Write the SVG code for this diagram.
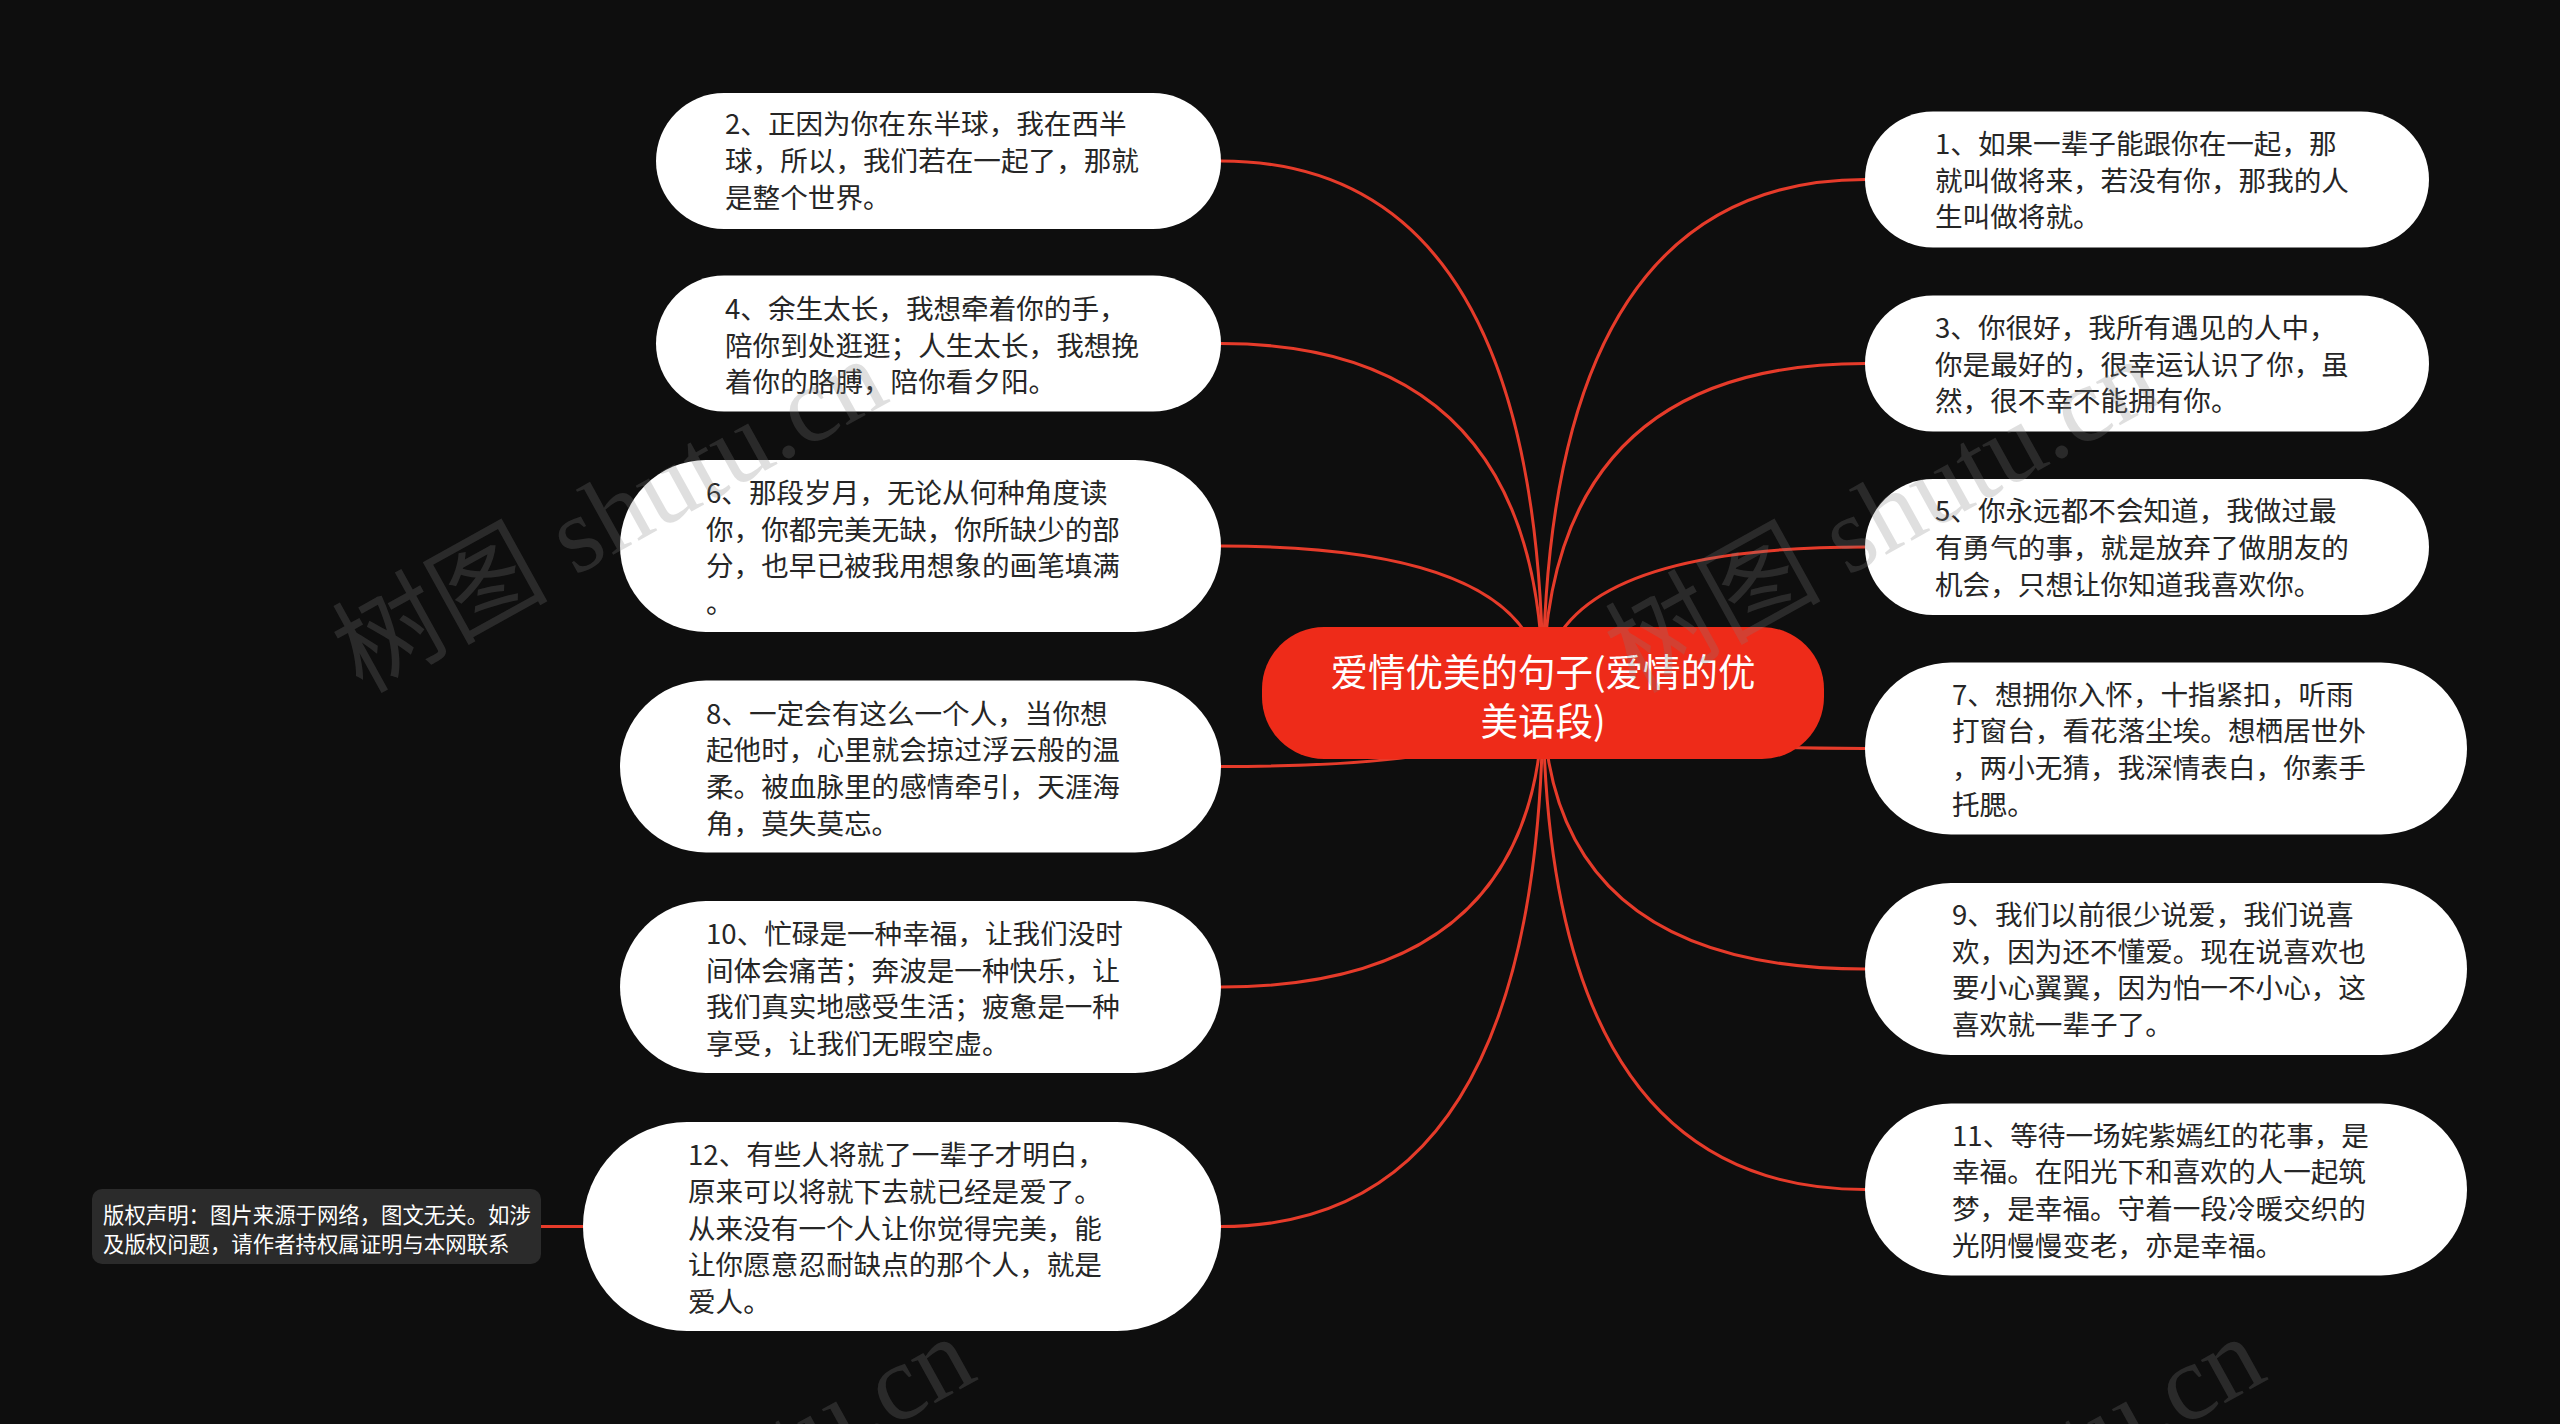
<svg xmlns="http://www.w3.org/2000/svg" width="2560" height="1424" viewBox="0 0 2560 1424">
<style>
.node rect{fill:#ffffff}
.node text{font-family:"Noto Sans CJK SC","Noto Sans",sans-serif;font-size:27.6px;fill:#262626;dominant-baseline:central}
.conn path{fill:none;stroke:#e63b2a;stroke-width:3}
#center rect{fill:#ee2b19}
#center text{font-family:"Noto Sans CJK SC","Noto Sans",sans-serif;font-size:37.5px;fill:#ffffff;text-anchor:middle;dominant-baseline:central}
#note rect{fill:#2b2b2b}
#note text{font-family:"Noto Sans CJK SC","Noto Sans",sans-serif;font-size:21.4px;fill:#ffffff;dominant-baseline:central}
.wm{font-family:"Liberation Serif","Noto Sans CJK SC",serif;font-size:108px;fill:#808080;fill-opacity:0.25}
</style>
<rect x="0" y="0" width="2560" height="1424" fill="#0e0e0e"/>
<g id="connectors" class="conn">
<path d="M1543,693 Q1543,161 1221,161"/>
<path d="M1543,693 Q1543,343.5 1221,343.5"/>
<path d="M1543,693 Q1543,546 1221,546"/>
<path d="M1543,693 Q1543,766.5 1221,766.5"/>
<path d="M1543,693 Q1543,987 1221,987"/>
<path d="M1543,693 Q1543,1226.5 1221,1226.5"/>
<path d="M1543,693 Q1543,179.5 1865,179.5"/>
<path d="M1543,693 Q1543,363.5 1865,363.5"/>
<path d="M1543,693 Q1543,547 1865,547"/>
<path d="M1543,693 Q1543,748.5 1865,748.5"/>
<path d="M1543,693 Q1543,969 1865,969"/>
<path d="M1543,693 Q1543,1189.5 1865,1189.5"/>
<path d="M541,1226.5 L583,1226.5"/>
</g>
<g id="center">
<rect x="1262" y="627" width="562" height="132" rx="62"/>
<text x="1543"><tspan x="1543" y="669">爱情优美的句子(爱情的优</tspan><tspan x="1543" y="718">美语段)</tspan></text>
</g>
<g id="n2" class="node">
<rect x="656" y="93" width="565" height="136" rx="68"/>
<text x="725"><tspan x="725" y="122.3">2、正因为你在东半球，我在西半</tspan><tspan x="725" y="159">球，所以，我们若在一起了，那就</tspan><tspan x="725" y="195.7">是整个世界。</tspan></text>
</g>
<g id="n4" class="node">
<rect x="656" y="275.5" width="565" height="136" rx="68"/>
<text x="725"><tspan x="725" y="306.8">4、余生太长，我想牵着你的手，</tspan><tspan x="725" y="343.5">陪你到处逛逛；人生太长，我想挽</tspan><tspan x="725" y="380.2">着你的胳膊，陪你看夕阳。</tspan></text>
</g>
<g id="n6" class="node">
<rect x="620" y="460" width="601" height="172" rx="86"/>
<text x="706"><tspan x="706" y="491">6、那段岁月，无论从何种角度读</tspan><tspan x="706" y="527.7">你，你都完美无缺，你所缺少的部</tspan><tspan x="706" y="564.4">分，也早已被我用想象的画笔填满</tspan><tspan x="706" y="601">。</tspan></text>
</g>
<g id="n8" class="node">
<rect x="620" y="680.5" width="601" height="172" rx="86"/>
<text x="706"><tspan x="706" y="711.5">8、一定会有这么一个人，当你想</tspan><tspan x="706" y="748.2">起他时，心里就会掠过浮云般的温</tspan><tspan x="706" y="784.9">柔。被血脉里的感情牵引，天涯海</tspan><tspan x="706" y="821.5">角，莫失莫忘。</tspan></text>
</g>
<g id="n10" class="node">
<rect x="620" y="901" width="601" height="172" rx="86"/>
<text x="706"><tspan x="706" y="932">10、忙碌是一种幸福，让我们没时</tspan><tspan x="706" y="968.7">间体会痛苦；奔波是一种快乐，让</tspan><tspan x="706" y="1005.4">我们真实地感受生活；疲惫是一种</tspan><tspan x="706" y="1042">享受，让我们无暇空虚。</tspan></text>
</g>
<g id="n12" class="node">
<rect x="583" y="1122" width="638" height="209" rx="104"/>
<text x="688"><tspan x="688" y="1153">12、有些人将就了一辈子才明白，</tspan><tspan x="688" y="1189.8">原来可以将就下去就已经是爱了。</tspan><tspan x="688" y="1226.5">从来没有一个人让你觉得完美，能</tspan><tspan x="688" y="1263.2">让你愿意忍耐缺点的那个人，就是</tspan><tspan x="688" y="1300">爱人。</tspan></text>
</g>
<g id="n1" class="node">
<rect x="1865" y="111.5" width="564" height="136" rx="68"/>
<text x="1935"><tspan x="1935" y="141.8">1、如果一辈子能跟你在一起，那</tspan><tspan x="1935" y="178.5">就叫做将来，若没有你，那我的人</tspan><tspan x="1935" y="215.2">生叫做将就。</tspan></text>
</g>
<g id="n3" class="node">
<rect x="1865" y="295.5" width="564" height="136" rx="68"/>
<text x="1935"><tspan x="1935" y="325.8">3、你很好，我所有遇见的人中，</tspan><tspan x="1935" y="362.5">你是最好的，很幸运认识了你，虽</tspan><tspan x="1935" y="399.2">然，很不幸不能拥有你。</tspan></text>
</g>
<g id="n5" class="node">
<rect x="1865" y="479" width="564" height="136" rx="68"/>
<text x="1935"><tspan x="1935" y="509.3">5、你永远都不会知道，我做过最</tspan><tspan x="1935" y="546">有勇气的事，就是放弃了做朋友的</tspan><tspan x="1935" y="582.7">机会，只想让你知道我喜欢你。</tspan></text>
</g>
<g id="n7" class="node">
<rect x="1865" y="662.5" width="602" height="172" rx="86"/>
<text x="1952"><tspan x="1952" y="692.5">7、想拥你入怀，十指紧扣，听雨</tspan><tspan x="1952" y="729.2">打窗台，看花落尘埃。想栖居世外</tspan><tspan x="1952" y="765.9">，两小无猜，我深情表白，你素手</tspan><tspan x="1952" y="802.5">托腮。</tspan></text>
</g>
<g id="n9" class="node">
<rect x="1865" y="883" width="602" height="172" rx="86"/>
<text x="1952"><tspan x="1952" y="913">9、我们以前很少说爱，我们说喜</tspan><tspan x="1952" y="949.7">欢，因为还不懂爱。现在说喜欢也</tspan><tspan x="1952" y="986.4">要小心翼翼，因为怕一不小心，这</tspan><tspan x="1952" y="1023">喜欢就一辈子了。</tspan></text>
</g>
<g id="n11" class="node">
<rect x="1865" y="1103.5" width="602" height="172" rx="86"/>
<text x="1952"><tspan x="1952" y="1133.5">11、等待一场姹紫嫣红的花事，是</tspan><tspan x="1952" y="1170.2">幸福。在阳光下和喜欢的人一起筑</tspan><tspan x="1952" y="1206.9">梦，是幸福。守着一段冷暖交织的</tspan><tspan x="1952" y="1243.5">光阴慢慢变老，亦是幸福。</tspan></text>
</g>
<g id="note">
<rect x="92" y="1189" width="449" height="75" rx="10"/>
<text x="103"><tspan x="103" y="1213">版权声明：图片来源于网络，图文无关。如涉</tspan><tspan x="103" y="1242">及版权问题，请作者持权属证明与本网联系</tspan></text>
</g>
<g id="watermark">
<text class="wm" transform="translate(362,694) rotate(-29)">树图 shutu.cn</text>
<text class="wm" transform="translate(1635,694) rotate(-29)">树图 shutu.cn</text>
<text class="wm" transform="translate(450,1672) rotate(-29)">树图 shutu.cn</text>
<text class="wm" transform="translate(1740,1672) rotate(-29)">树图 shutu.cn</text>
</g>
</svg>
